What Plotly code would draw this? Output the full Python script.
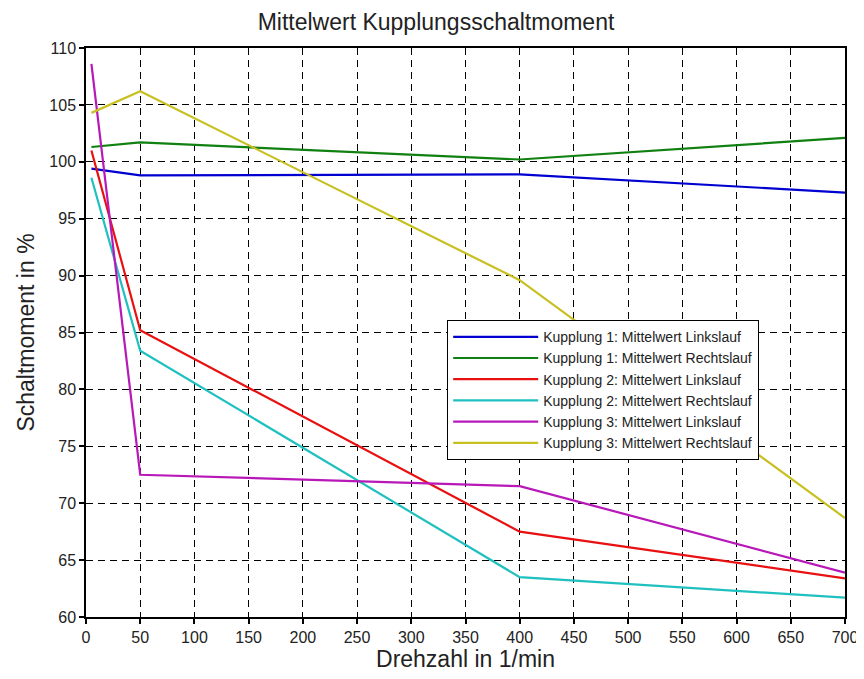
import plotly.graph_objects as go

drehzahl = [5, 50, 400, 700]

k1_links = [99.4, 98.8, 98.9, 97.3]
k1_rechts = [101.3, 101.7, 100.2, 102.1]
k2_links = [101.0, 85.2, 67.5, 63.4]
k2_rechts = [98.6, 83.4, 63.5, 61.7]
k3_links = [108.6, 72.5, 71.5, 63.9]
k3_rechts = [104.3, 106.2, 89.6, 68.7]

names = [
    "Kupplung 1: Mittelwert Linkslauf",
    "Kupplung 1: Mittelwert Rechtslauf",
    "Kupplung 2: Mittelwert Linkslauf",
    "Kupplung 2: Mittelwert Rechtslauf",
    "Kupplung 3: Mittelwert Linkslauf",
    "Kupplung 3: Mittelwert Rechtslauf",
]
series = [k1_links, k1_rechts, k2_links, k2_rechts, k3_links, k3_rechts]
colors = ["#0000d0", "#108010", "#e81010", "#20c0c0", "#b818b8", "#c8c020"]

x_ticks = list(range(0, 701, 50))
y_ticks = list(range(60, 111, 5))

fig = go.Figure()
for name, ys, c in zip(names, series, colors):
    fig.add_trace(go.Scatter(x=drehzahl, y=ys, mode="lines", name=name,
                             line=dict(color=c, width=2.2)))

axis_common = dict(
    showline=True, linecolor="black", linewidth=1.5, mirror=True,
    ticks="outside", ticklen=5, tickcolor="black", tickwidth=1.5,
    showgrid=True, gridcolor="black", gridwidth=1, griddash="7px,5px",
    zeroline=False, automargin=False, tickfont=dict(size=16, color="#222222"),
)

fig.update_xaxes(range=[0, 700], tickvals=x_ticks,
                 title=dict(text="Drehzahl in 1/min", font=dict(size=23, color="#222222"), standoff=6),
                 **axis_common)
fig.update_yaxes(range=[60, 110], tickvals=y_ticks,
                 title=dict(text="Schaltmoment in %", font=dict(size=23, color="#222222"), standoff=8),
                 **axis_common)

fig.update_layout(
    width=856, height=671,
    margin=dict(l=78, r=19, t=40, b=62),
    paper_bgcolor="white", plot_bgcolor="white",
    font=dict(family="Liberation Sans, Arial, sans-serif", color="#222222"),
    title=dict(text="Mittelwert Kupplungsschaltmoment", x=0.5, xanchor="center",
               y=0.979, yanchor="middle", font=dict(size=23, color="#222222")),
    legend=dict(x=0.4756, y=0.522, xanchor="left", yanchor="top",
                bgcolor="white", bordercolor="black", borderwidth=1.2,
                font=dict(size=14, color="#222222"), tracegroupgap=0,
                itemwidth=85),
    showlegend=True,
)

fig.write_html("out.html")
